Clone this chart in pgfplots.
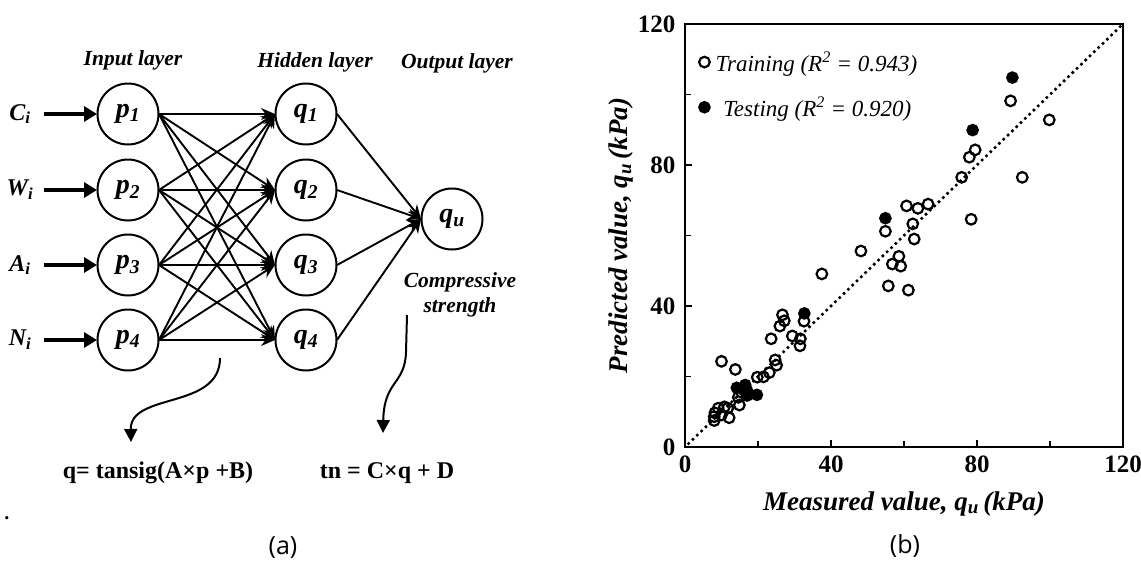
\documentclass[border=0pt]{standalone}
\usepackage{fontspec}
\setmainfont{Liberation Serif}
\newfontfamily\sansab{Open Sans}
\usepackage{pgfplots}
\pgfplotsset{compat=1.18}
\usetikzlibrary{arrows.meta}
\begin{document}
\begin{tikzpicture}[x=1pt,y=-1pt]
\path[use as bounding box] (0,0) rectangle (1141,568);
\tikzset{neuron/.style={circle, draw, line width=2pt, minimum size=61pt, inner sep=0pt, font=\bfseries\itshape\fontsize{28}{28}\selectfont},
 lbl/.style={font=\bfseries\itshape\fontsize{21.5}{23}\selectfont}}
% layer titles
\node[lbl] at (133,60) {Input layer};
\node[lbl] at (315,62) {Hidden layer};
\node[lbl] at (457,63) {Output layer};
% neurons
\foreach \y/\i/\l in {114/1/C,190/2/W,265/3/A,340/4/N}{
  \node[neuron] at (128,\y) {p\textsubscript{\i}};
  \node[neuron] at (306,\y) {q\textsubscript{\i}};
  \node[font=\bfseries\itshape\fontsize{24}{24}\selectfont] at (20,\y) {\l\textsubscript{i}};
  \draw[line width=4.5pt, -{Triangle[length=13pt,width=15pt]}] (44,\y) -- (97,\y);
  \draw[line width=1.9pt, -{Stealth[length=14pt,width=12pt]}] (337,\y) -- (421,219);
}
\foreach \ya in {114,190,265,340}{
  \foreach \yb in {114,190,265,340}{
    \draw[line width=1.9pt, -{Stealth[length=14pt,width=12pt]}] (159,\ya) -- (275,\yb);
  }
}
\node[neuron] at (452,219) {q\textsubscript{u}};
\node[lbl] at (460,282) {Compressive};
\node[lbl] at (460,307) {strength};
\draw[line width=2pt, -{Triangle[length=13pt,width=13pt]}] (220,358) .. controls (220,410) and (130,392) .. (131,442);
\draw[line width=2pt, -{Triangle[length=13pt,width=13pt]}] (407,315) -- (406,352) .. controls (405,385) and (384,380) .. (383,433);
\node[font=\bfseries\fontsize{24}{26}\selectfont] at (158,473) {q= tansig(A×p +B)};
\node[font=\bfseries\fontsize{24}{26}\selectfont] at (387,473) {tn = C×q + D};
\node[font=\bfseries\fontsize{20}{22}\selectfont] at (7,518) {.};
\node[font=\sansab\fontsize{25}{27}\selectfont] at (283,548) {(a)};
\node[font=\sansab\fontsize{25}{27}\selectfont] at (905,546) {(b)};
\begin{axis}[
  at={(685pt,-447pt)}, anchor=south west, scale only axis,
  width=438pt, height=423pt,
  xmin=0, xmax=120, ymin=0, ymax=120,
  xtick={0,40,80,120}, ytick={0,40,80,120},
  minor xtick={20,60,100}, minor ytick={20,60,100},
  tick pos=left, tick align=inside,
  major tick length=7pt, minor tick length=6pt,
  axis line style={line width=2.5pt},
  tick style={line width=1.2pt, black},
  /pgf/number format/assume math mode=true,
  ticklabel style={font=\bfseries\fontsize{25}{25}\selectfont},
  xticklabel style={yshift=-5pt},
  yticklabel style={xshift=-6pt},
  xlabel={Measured value, \textit{q}\textsubscript{\textit{u}}\,(kPa)},
  ylabel={Predicted value, \textit{q}\textsubscript{\textit{u}}\,(kPa)},
  label style={font=\bfseries\itshape\fontsize{27}{29}\selectfont},
  xlabel style={yshift=-12pt},
  ylabel style={yshift=-2pt},
  legend style={at={(0.025,0.945)}, anchor=north west, draw=none, fill=none,
    font=\itshape\fontsize{23}{25}\selectfont, row sep=20pt},
  legend cell align=left,
]
\addplot[only marks, mark=o, mark size=5.3pt, line width=2.2pt, black] coordinates {
(89.2,98.2) (99.8,92.8) (79.5,84.3) (77.9,82.2) (75.8,76.5) (92.4,76.5)
(78.4,64.6) (60.7,68.4) (63.8,67.7) (66.6,68.9) (54.9,61.2) (62.4,63.3)
(62.8,59.0) (48.2,55.6) (58.6,54.1) (56.8,51.9) (59.1,51.3) (55.7,45.7)
(61.2,44.5) (37.5,49.1) (32.6,35.7) (26.7,37.5) (27.2,35.8) (26.0,34.3)
(23.6,30.7) (29.4,31.5) (31.6,30.7) (31.5,28.7) (10.0,24.3) (13.8,22.0)
(24.7,24.7) (25.1,23.2) (23.1,21.1) (21.5,19.9) (19.8,19.8) (14.6,14.1)
(14.9,11.9) (11.7,11.0) (12.1,8.3) (9.1,11.0) (8.2,9.7) (8.0,8.6)
(8.0,7.5) (10.0,9.1) (10.8,11.4) (15.5,15.5)
};
\addlegendentry{\,Training (R\textsuperscript{2} = 0.943)}
\addplot[only marks, mark=*, mark size=5.3pt, line width=2pt, black] coordinates {
(89.7,104.8) (78.8,89.9) (54.9,64.9) (32.7,37.9) (14.2,16.8) (16.5,17.6)
(17.0,16.0) (17.0,14.6) (19.7,14.8)
};
\addlegendentry{\ \ Testing (R\textsuperscript{2} = 0.920)}
\addplot[black, line width=3.6pt, line cap=round, dash pattern=on 0pt off 6pt, forget plot] coordinates {(1,1) (120,120)};
\end{axis}
\end{tikzpicture}
\end{document}
